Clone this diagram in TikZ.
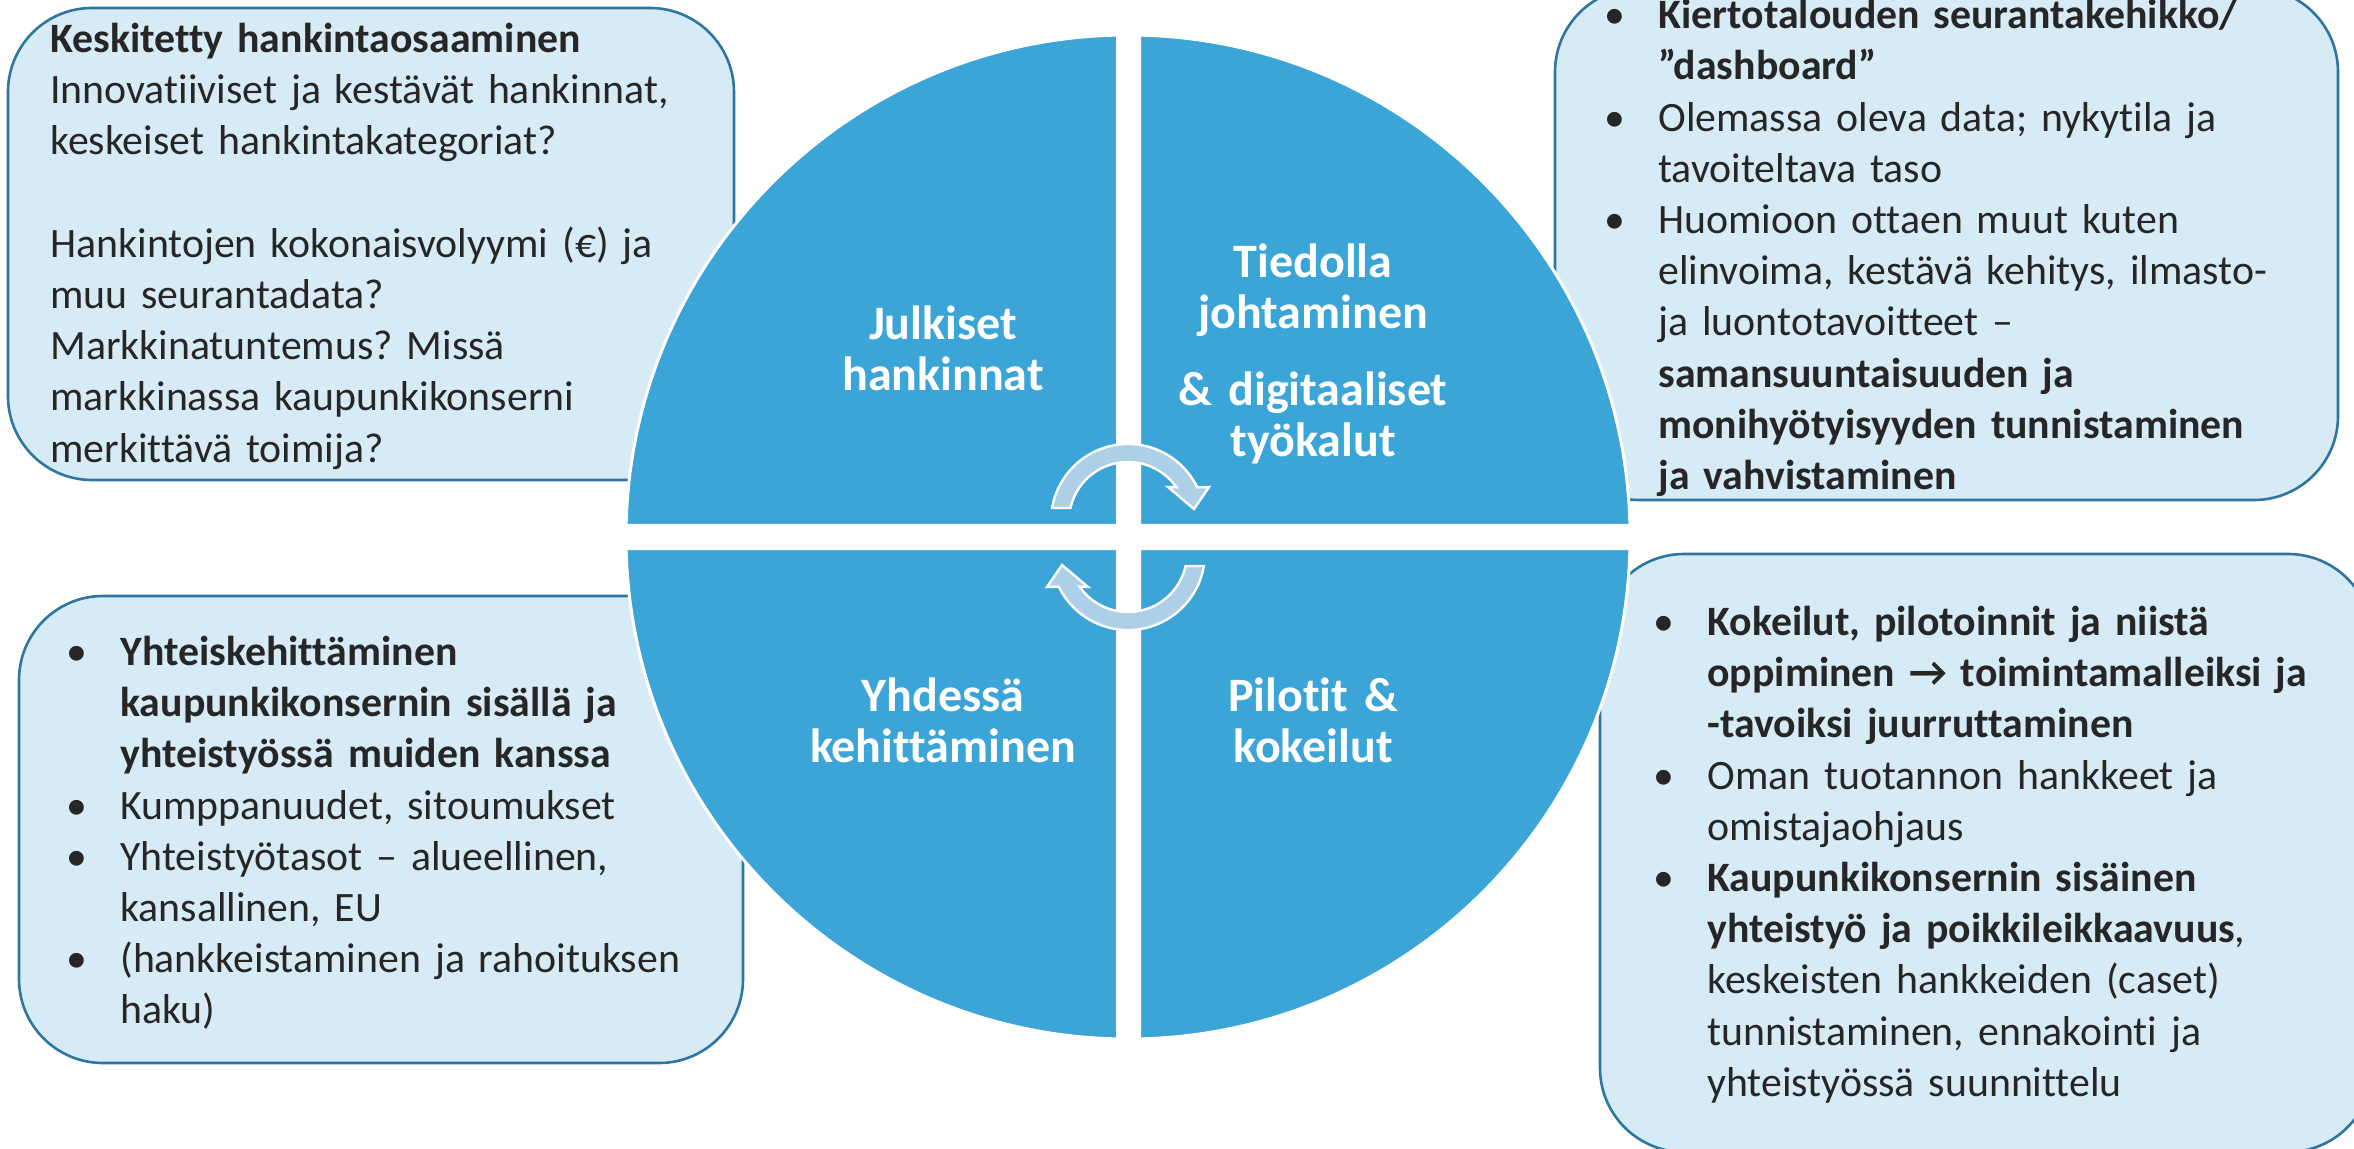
\documentclass[tikz,border=0pt]{standalone}
\usepackage{fontspec}
\setmainfont{Carlito}[Ligatures=NoCommon]
\usepackage{xcolor}

\definecolor{wheelblue}{RGB}{59,165,215}
\definecolor{boxfill}{RGB}{215,235,247}
\definecolor{boxline}{RGB}{46,117,160}
\definecolor{arrowfill}{RGB}{174,207,232}
\definecolor{textgray}{RGB}{38,38,38}

\newcommand{\bodyfont}{\fontsize{20.9pt}{25.6pt}\selectfont\frenchspacing}
\newcommand{\wheelfont}{\fontsize{24pt}{25.5pt}\selectfont\bfseries}
\newcommand{\bullabel}{\leavevmode\llap{\makebox[27pt][l]{\textbullet}}}

\tikzset{
    infobox/.style={fill=boxfill, draw=boxline, line width=1.3pt, rounded corners=42pt},
    infotext/.style={anchor=north west, inner sep=0pt, text width=420pt, align=left, text=textgray,
        font=\bodyfont, execute at begin node=\bodyfont},
    bullettext/.style={infotext, execute at begin node={\bodyfont\leftskip=27pt}},
    wheeltext/.style={anchor=north, inner sep=0pt, text width=200pt, align=center, text=white,
        font=\wheelfont, execute at begin node=\wheelfont},
    cyclearrow/.style={fill=arrowfill, draw=white, line width=1.2pt},
}

\begin{document}
\begin{tikzpicture}[x=0.5pt, y=-0.5pt]
    \useasboundingbox (0,0) rectangle (2354,1149);

    \draw[infobox] (8,8) rectangle (734,480);
    \draw[infobox] (1555,-12) rectangle (2338,500);
    \draw[infobox] (19,596) rectangle (743,1063);
    \draw[infobox] (1600,554) rectangle (2372,1152);

    \node[infotext] (hankinta) at (50,16.2) {\strut{\bfseries Keskitetty hankintaosaaminen}\\
        Innovatiiviset ja kestävät hankinnat,\\ keskeiset hankintakategoriat?\\[25.6pt]
        Hankintojen kokonaisvolyymi (€) ja\\ muu seurantadata?\\ Markkinatuntemus? Missä\\
        markkinassa kaupunkikonserni\\ merkittävä toimija?};
    \node[bullettext] (seuranta) at (1604,-7.5) {\strut
        \bullabel{\bfseries Kiertotalouden seurantakehikko/\\ ”dashboard”}\\
        \bullabel Olemassa oleva data; nykytila ja\\ tavoiteltava taso\\
        \bullabel Huomioon ottaen muut kuten\\ elinvoima, kestävä kehitys, ilmasto-\\ ja luontotavoitteet –\\
        {\bfseries samansuuntaisuuden ja\\ monihyötyisyyden tunnistaminen\\ ja vahvistaminen}};
    \node[bullettext] (yhteis) at (66,629.2) {\strut
        \bullabel{\bfseries Yhteiskehittäminen\\ kaupunkikonsernin sisällä ja\\ yhteistyössä muiden kanssa}\\
        \bullabel Kumppanuudet, sitoumukset\\
        \bullabel Yhteistyötasot – alueellinen,\\ kansallinen, EU\\
        \bullabel (hankkeistaminen ja rahoituksen\\ haku)};
    \node[bullettext] (kokeilu) at (1653,599.2) {\strut
        \bullabel{\bfseries Kokeilut, pilotoinnit ja niistä\\ oppiminen → toimintamalleiksi ja\\ -tavoiksi juurruttaminen}\\
        \bullabel Oman tuotannon hankkeet ja\\ omistajaohjaus\\
        \bullabel{\bfseries Kaupunkikonsernin sisäinen\\ yhteistyö ja poikkileikkaavuus},\\
        keskeisten hankkeiden (caset)\\ tunnistaminen, ennakointi ja\\ yhteistyössä suunnittelu};

    \fill[wheelblue, draw=white, line width=1.5pt] (1128,537) circle[radius=502];
    \fill[white] (1116,25) rectangle (1141,1050) (615,524) rectangle (1641,550);

    \node[wheeltext] (julkiset) at (943,303.3) {\strut Julkiset\\ hankinnat};
    \node[wheeltext] (tiedolla) at (1313,241.3) {\strut Tiedolla\\ johtaminen\\[13pt] \& digitaaliset\\ työkalut};
    \node[wheeltext] (yhdessa) at (943,675.3) {\strut Yhdessä\\ kehittäminen};
    \node[wheeltext] (pilotit) at (1313,675.3) {\strut Pilotit \&\\ kokeilut};

    \foreach \turn in {0,180}
        \draw[cyclearrow, rotate around={\turn:(1128,537)}]
            (1052.1,508) arc[start angle=189.7, end angle=334.1, radius=77]
            -- (1209,487) -- (1194,509) -- (1168,487) -- (1176.4,487.3)
            arc[start angle=325.2, end angle=192.7, radius=59] -- cycle;
\end{tikzpicture}
\end{document}
